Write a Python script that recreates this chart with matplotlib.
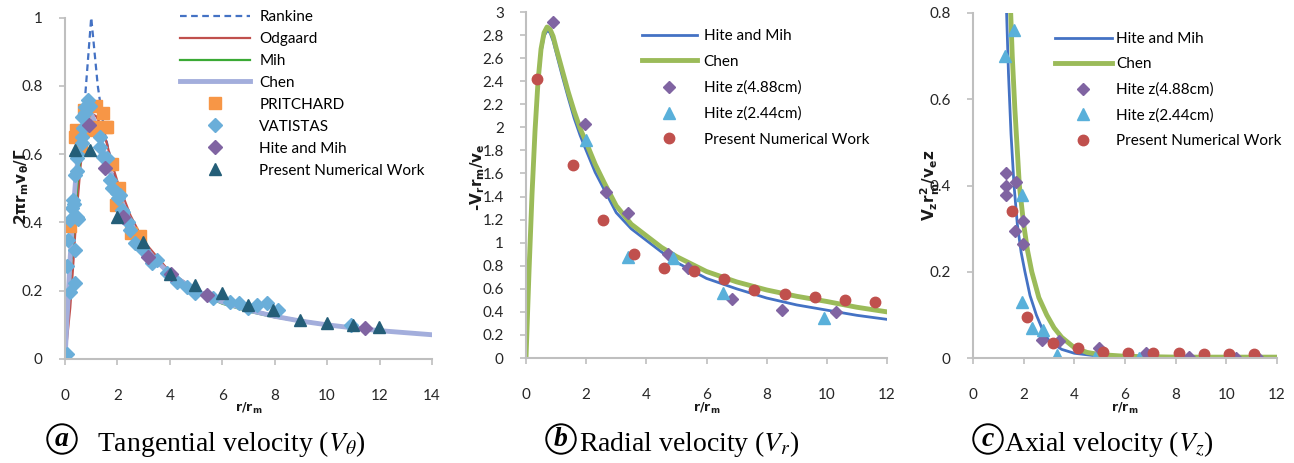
import matplotlib
matplotlib.use("Agg")
import matplotlib.pyplot as plt

# ---------------- Panel (a) data: tangential velocity ----------------
rank_r = [0, 1, 1.25, 1.5, 2, 2.5, 3, 4, 5, 6, 8, 10, 12, 14]
rank_v = [0, 1, 0.8, 0.667, 0.5, 0.4, 0.333, 0.25, 0.2, 0.167, 0.125, 0.1, 0.083, 0.071]

odg_r = [0, 0.2, 0.3, 0.4, 0.5, 0.6, 0.8, 1.0, 1.2, 1.4, 1.6, 1.8, 2.0, 2.5, 3, 4, 5, 6, 8, 10, 12, 14]
odg_v = [0, 0.15, 0.26, 0.38, 0.48, 0.57, 0.68, 0.72, 0.71, 0.68, 0.63, 0.57, 0.52, 0.42, 0.345,
         0.255, 0.203, 0.169, 0.126, 0.101, 0.084, 0.072]

mih_r = [0, 0.25, 0.5, 0.75, 1.0, 1.25, 1.5, 2, 2.5, 3, 4, 5, 6, 7, 8, 10, 12, 14]
mih_v = [0, 0.30, 0.54, 0.67, 0.70, 0.66, 0.60, 0.48, 0.39, 0.325, 0.245, 0.196, 0.162, 0.139,
         0.122, 0.098, 0.082, 0.07]

chen_r = [0, 0.1, 0.2, 0.3, 0.4, 0.5, 0.6, 0.7, 0.8, 0.9, 1.0, 1.1, 1.2, 1.4, 1.6, 1.8, 2.0,
          2.5, 3, 3.5, 4, 5, 6, 7, 8, 9, 10, 11, 12, 13, 14]
chen_v = [0, 0.15, 0.30, 0.42, 0.52, 0.59, 0.65, 0.69, 0.71, 0.72, 0.72, 0.70, 0.68, 0.63, 0.58,
          0.53, 0.49, 0.40, 0.333, 0.286, 0.25, 0.20, 0.167, 0.143, 0.125, 0.111, 0.10, 0.091,
          0.083, 0.077, 0.071]

prit_r = [0.2, 0.38, 0.42, 0.62, 0.72, 0.95, 1.1, 1.2, 1.45, 1.55, 1.6, 1.8, 1.95, 2.05, 2.5, 2.85]
prit_v = [0.39, 0.65, 0.67, 0.62, 0.73, 0.67, 0.68, 0.74, 0.72, 0.68, 0.68, 0.57, 0.45, 0.50, 0.37, 0.36]

vat_r = [0.06, 0.06, 0.13, 0.19, 0.19, 0.25, 0.32, 0.38, 0.38, 0.45, 0.35, 0.38, 0.45, 0.45,
         0.45, 0.5, 0.64, 0.64, 0.70, 0.64, 0.76, 0.89, 0.95, 0.76, 1.34, 1.34, 1.46, 1.59,
         1.72, 1.78, 1.97, 2.03, 2.1, 2.16, 2.23, 2.42, 2.48, 2.67, 2.99, 3.31, 3.5, 3.88,
         4.26, 4.64, 4.96, 5.66, 6.3, 6.62, 7.0, 7.32, 7.7, 8.14, 10.9]
vat_v = [0.016, 0.273, 0.348, 0.197, 0.407, 0.441, 0.466, 0.222, 0.319, 0.417, 0.455, 0.539,
         0.55, 0.588, 0.60, 0.41, 0.632, 0.65, 0.675, 0.71, 0.739, 0.758, 0.74, 0.72, 0.651,
         0.62, 0.592, 0.59, 0.524, 0.5, 0.485, 0.47, 0.48, 0.436, 0.43, 0.40, 0.378, 0.339,
         0.319, 0.28, 0.29, 0.251, 0.226, 0.212, 0.192, 0.178, 0.168, 0.165, 0.148, 0.158,
         0.163, 0.143, 0.10]

hm_r = [0.93, 1.53, 2.23, 3.18, 4.05, 5.41, 11.45]
hm_v = [0.685, 0.558, 0.417, 0.30, 0.248, 0.187, 0.09]

pnw_r = [0.38, 0.95, 1.97, 2.99, 4.0, 4.96, 5.98, 7.0, 7.95, 8.97, 9.99, 11.0, 11.96]
pnw_v = [0.612, 0.612, 0.417, 0.343, 0.25, 0.217, 0.192, 0.158, 0.143, 0.114, 0.106, 0.10, 0.095]

# ---------------- Panel (b) data: radial velocity ----------------
rb_x = [0, 0.1, 0.2, 0.3, 0.4, 0.5, 0.6, 0.7, 0.8, 0.9, 1.0, 1.2, 1.4, 1.6, 1.8, 2.0, 2.3,
        2.6, 3.0, 3.5, 4.0, 4.5, 5, 6, 7, 8, 9, 10, 11, 12]
rb_hite = [0, 0.75, 1.40, 1.95, 2.37, 2.65, 2.79, 2.84, 2.82, 2.75, 2.65, 2.45, 2.26, 2.08,
           1.93, 1.80, 1.61, 1.46, 1.26, 1.12, 1.02, 0.92, 0.83, 0.69, 0.60, 0.52, 0.46, 0.415,
           0.37, 0.335]
rb_chen = [0, 0.75, 1.42, 1.97, 2.40, 2.68, 2.82, 2.87, 2.85, 2.79, 2.69, 2.50, 2.31, 2.14,
           1.99, 1.87, 1.68, 1.52, 1.32, 1.16, 1.06, 0.96, 0.88, 0.75, 0.66, 0.59, 0.535, 0.49,
           0.44, 0.40]

b_h488_x = [0.91, 1.96, 2.65, 3.40, 4.73, 5.40, 6.84, 8.52, 10.31]
b_h488_y = [2.91, 2.03, 1.44, 1.255, 0.90, 0.78, 0.51, 0.42, 0.396]
b_h244_x = [1.98, 3.38, 4.90, 6.54, 9.91]
b_h244_y = [1.89, 0.873, 0.87, 0.56, 0.35]
b_pnw_x = [0.38, 1.57, 2.57, 3.59, 4.59, 5.59, 6.59, 7.59, 8.61, 9.61, 10.6, 11.6]
b_pnw_y = [2.42, 1.67, 1.20, 0.90, 0.78, 0.757, 0.688, 0.59, 0.557, 0.53, 0.503, 0.483]

# ---------------- Panel (c) data: axial velocity ----------------
cz_hite_x = [1.3, 1.4, 1.5, 1.62, 1.75, 1.9, 2.05, 2.25, 2.5, 2.75, 3.0, 3.5, 4, 5, 6, 7, 8,
             9, 10, 11, 12]
cz_hite_y = [0.85, 0.66, 0.52, 0.40, 0.31, 0.245, 0.20, 0.145, 0.10, 0.065, 0.04, 0.02, 0.011,
             0.004, 0.002, 0.001, 0.0005, 0.0003, 0.0002, 0.0001, 0.0001]
cz_chen_x = [1.45, 1.55, 1.65, 1.83, 2.0, 2.15, 2.32, 2.6, 2.91, 3.2, 3.5, 4, 4.5, 5, 6, 7, 8,
             9, 10, 11, 12]
cz_chen_y = [0.86, 0.70, 0.58, 0.40, 0.31, 0.25, 0.20, 0.14, 0.10, 0.07, 0.048, 0.024, 0.013,
             0.008, 0.004, 0.003, 0.002, 0.002, 0.002, 0.002, 0.002]

c_h488_x = [1.29, 1.30, 1.30, 1.70, 1.67, 1.99, 1.99, 2.71, 3.40, 4.99, 6.82, 8.53, 10.37, 11.26]
c_h488_y = [0.428, 0.398, 0.378, 0.409, 0.294, 0.318, 0.264, 0.042, 0.04, 0.024, 0.012, 0.003,
            0.0, 0.0]
c_h244_x = [1.26, 1.62, 1.92, 1.95, 2.32, 2.78, 3.30, 4.82, 6.55]
c_h244_y = [0.70, 0.76, 0.378, 0.13, 0.069, 0.065, 0.007, 0.0, 0.0]
c_pnw_x = [1.55, 2.14, 3.14, 4.13, 5.15, 6.13, 7.11, 8.13, 9.12, 10.1, 11.1]
c_pnw_y = [0.341, 0.094, 0.034, 0.024, 0.013, 0.011, 0.011, 0.011, 0.010, 0.010, 0.010]

# ---------------- styling ----------------
TICKFONT = "Lato"
W, H = 1294, 463
fig = plt.figure(figsize=(W / 100, H / 100), dpi=100)


def ax_px(l, r, b, t):
    return fig.add_axes([l / W, 1 - b / H, (r - l) / W, (b - t) / H])


def style(ax):
    for s in ("top", "right"):
        ax.spines[s].set_visible(False)
    for s in ("left", "bottom"):
        ax.spines[s].set_color("#BFBFBF")
        ax.spines[s].set_linewidth(1.5)
    ax.tick_params(axis="both", colors="#BFBFBF", labelcolor="#262626", length=4,
                   width=1.2, direction="out", labelsize=11)
    ax.tick_params(axis="x", pad=17.5)
    ax.tick_params(axis="y", pad=12)
    for lab in ax.get_xticklabels() + ax.get_yticklabels():
        lab.set_fontfamily(TICKFONT)


axA = ax_px(65, 432, 359, 17.5)
axB = ax_px(526, 887, 358, 12)
axC = ax_px(973, 1277, 358, 13)

# Panel a
axA.plot(rank_r, rank_v, color="#4472C4", lw=1.6, ls=(0, (3, 2)), label="Rankine")
axA.plot(odg_r, odg_v, color="#C0504D", lw=1.6, label="Odgaard")
axA.plot(mih_r, mih_v, color="#3AA935", lw=1.6, label="Mih")
axA.plot(chen_r, chen_v, color="#A3AEDC", lw=3.5, label="Chen")
axA.plot(prit_r, prit_v, ls="none", marker="s", ms=8.5, color="#F79646", label="PRITCHARD")
axA.plot(vat_r, vat_v, ls="none", marker="D", ms=7.3, color="#6AAED9", label="VATISTAS")
axA.plot(hm_r, hm_v, ls="none", marker="D", ms=7, color="#8064A2", label="Hite and Mih")
axA.plot(pnw_r, pnw_v, ls="none", marker="^", ms=8.5, color="#245E78",
         label="Present Numerical Work")
axA.set_xlim(0, 14)
axA.set_ylim(0, 1)
axA.set_xticks(range(0, 15, 2))
axA.set_yticks([0, 0.2, 0.4, 0.6, 0.8, 1.0])
axA.set_yticklabels(["0", "0.2", "0.4", "0.6", "0.8", "1"])
style(axA)
axA.legend(loc="upper left", bbox_to_anchor=((180 - 65) / 367, (359 - 10) / 341.5),
           frameon=False, borderpad=0, borderaxespad=0, handlelength=4.6,
           handletextpad=0.6, labelspacing=0.52, numpoints=1,
           prop={"family": TICKFONT, "size": 11})

# Panel b
axB.plot(rb_x, rb_hite, color="#4472C4", lw=2, label="Hite and Mih")
axB.plot(rb_x, rb_chen, color="#9BBB59", lw=3.5, label="Chen")
axB.plot(b_h488_x, b_h488_y, ls="none", marker="D", ms=6.3, color="#8064A2",
         label="Hite z(4.88cm)")
axB.plot(b_h244_x, b_h244_y, ls="none", marker="^", ms=8, color="#59B0DA",
         label="Hite z(2.44cm)")
axB.plot(b_pnw_x, b_pnw_y, ls="none", marker="o", ms=7.5, color="#C0504D",
         label="Present Numerical Work")
axB.set_xlim(0, 12)
axB.set_ylim(0, 3)
axB.set_xticks(range(0, 13, 2))
yt = [i * 0.2 for i in range(16)]
axB.set_yticks(yt)
axB.set_yticklabels(["0", "0.2", "0.4", "0.6", "0.8", "1", "1.2", "1.4", "1.6", "1.8", "2",
                     "2.2", "2.4", "2.6", "2.8", "3"])
style(axB)
axB.legend(loc="upper left", bbox_to_anchor=((641.7 - 526) / 361, (358 - 29) / 346),
           frameon=False, borderpad=0, borderaxespad=0, handlelength=3.6,
           handletextpad=0.45, labelspacing=0.77, numpoints=1,
           prop={"family": TICKFONT, "size": 11})

# Panel c
axC.plot(cz_hite_x, cz_hite_y, color="#4472C4", lw=2, label="Hite and Mih")
axC.plot(cz_chen_x, cz_chen_y, color="#9BBB59", lw=3.5, label="Chen")
axC.plot(c_h488_x, c_h488_y, ls="none", marker="D", ms=6.3, color="#8064A2",
         label="Hite z(4.88cm)")
axC.plot(c_h244_x, c_h244_y, ls="none", marker="^", ms=8, color="#59B0DA",
         label="Hite z(2.44cm)")
axC.plot(c_pnw_x, c_pnw_y, ls="none", marker="o", ms=7.5, color="#C0504D",
         label="Present Numerical Work")
axC.set_xlim(0, 12)
axC.set_ylim(0, 0.8)
axC.set_xticks(range(0, 13, 2))
axC.set_yticks([0, 0.2, 0.4, 0.6, 0.8])
axC.set_yticklabels(["0", "0.2", "0.4", "0.6", "0.8"])
style(axC)
axC.legend(loc="upper left", bbox_to_anchor=((1055 - 973) / 304, (358 - 32) / 345),
           frameon=False, borderpad=0, borderaxespad=0, handlelength=3.7,
           handletextpad=0.3, labelspacing=0.74, numpoints=1,
           prop={"family": TICKFONT, "size": 11})


def ftext(x, y, s, **kw):
    return fig.text(x / W, 1 - y / H, s, **kw)


# axis labels
lab_kw = dict(family="DejaVu Sans", fontweight="bold", color="#1a1a1a")
ftext(22, 187, r"$\mathregular{2πr_mv_θ/Γ}$", rotation=90, ha="center", va="center",
      fontsize=11, **lab_kw)
ftext(478, 177, r"-$\mathregular{V_rr_m/v_e}$", rotation=90, ha="center", va="center",
      fontsize=11, **lab_kw)
ftext(930, 185, r"$\mathregular{V_zr_m^2/v_ez}$", rotation=90, ha="center", va="center",
      fontsize=11, **lab_kw)
for xc in (248.5, 706.5, 1125):
    ftext(xc, 408, r"$\mathregular{r/r_m}$", ha="center", va="center", fontsize=9, **lab_kw)

# captions
circ_kw = dict(family="Liberation Serif", fontstyle="italic", fontweight="bold",
               fontsize=20, ha="center", va="center",
               bbox=dict(boxstyle="circle,pad=0.08", fc="white", ec="black", lw=1.4))
cap_kw = dict(family="Liberation Serif", fontsize=20, ha="left", va="baseline",
              math_fontfamily="stix")
ftext(62, 439, "a", **circ_kw)
ftext(97, 451, r"Tangential velocity ($V_\theta$)", **cap_kw)
ftext(561, 439, "b", **circ_kw)
ftext(579, 451, r"Radial velocity ($V_r$)", **cap_kw)
ftext(988, 439, "c", **circ_kw)
ftext(1004, 451, r"Axial velocity ($V_z$)", **cap_kw)

fig.savefig("out.png", dpi=100)
